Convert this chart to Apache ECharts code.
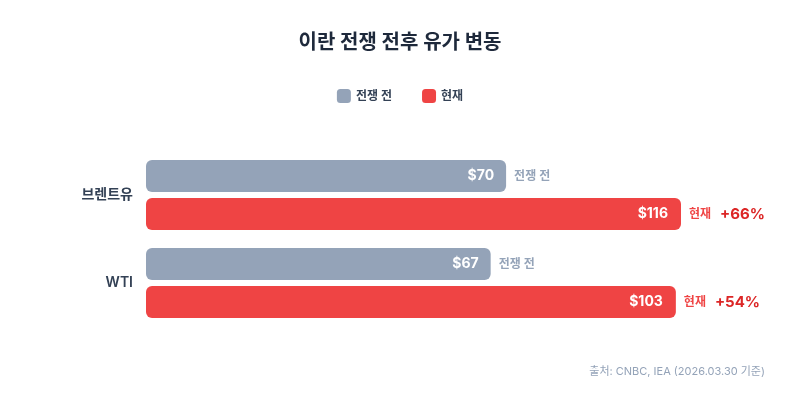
<!DOCTYPE html>
<html>
<head>
<meta charset="utf-8">
<script src="https://cdn.jsdelivr.net/npm/echarts@6/dist/echarts.min.js"></script>
<style>
html,body{margin:0;padding:0;background:#ffffff;}
#chart{width:800px;height:400px;}
</style>
</head>
<body>
<div id="chart"></div>
<script>
const categories = ['브렌트유', 'WTI'];
const seriesNames = ['전쟁 전', '현재'];
const preWar = [70, 67];
const current = [116, 103];
const titleText = '이란 전쟁 전후 유가 변동';
const sourceText = '출처: CNBC, IEA (2026.03.30 기준)';

const FONT = 'Inter, "Noto Sans CJK KR", "Noto Sans", sans-serif';
const chart = echarts.init(document.getElementById('chart'));

function pct(i) {
  return Math.round((current[i] - preWar[i]) / preWar[i] * 100);
}

const option = {
  backgroundColor: '#ffffff',
  textStyle: { fontFamily: FONT },
  title: {
    text: titleText,
    left: 'center',
    top: 28,
    textStyle: { fontSize: 20, fontWeight: 'bold', color: '#1e293b', fontFamily: FONT }
  },
  legend: {
    data: seriesNames,
    top: 84,
    left: 'center',
    icon: 'roundRect',
    itemWidth: 14,
    itemHeight: 14,
    itemGap: 30,
    textStyle: { fontSize: 12, fontWeight: 600, color: '#334155', fontFamily: FONT }
  },
  grid: { left: 146, right: 119, top: 151, bottom: 73, containLabel: false },
  xAxis: { type: 'value', min: 0, max: 104, show: false },
  yAxis: [
    {
      type: 'category', data: categories, inverse: true,
      axisLine: { show: false }, axisTick: { show: false }, splitLine: { show: false },
      axisLabel: { fontSize: 14, fontWeight: 600, color: '#334155', margin: 13, fontFamily: FONT }
    },
    { type: 'category', data: categories, inverse: true, show: false }
  ],
  series: [
    {
      name: seriesNames[0], type: 'bar', yAxisIndex: 0, data: preWar,
      barWidth: 32, barGap: '18.75%',
      itemStyle: { color: '#94a3b8', borderRadius: 6 },
      label: { show: true, position: 'insideRight', distance: 12, formatter: p => '$' + p.value,
        color: '#ffffff', fontSize: 14, fontWeight: 'bold', fontFamily: FONT }
    },
    {
      name: seriesNames[1], type: 'bar', yAxisIndex: 0, data: current,
      barWidth: 32, barGap: '18.75%',
      itemStyle: { color: '#ef4444', borderRadius: 6 },
      label: { show: true, position: 'insideRight', distance: 13, formatter: p => '$' + p.value,
        color: '#ffffff', fontSize: 14, fontWeight: 'bold', fontFamily: FONT }
    },
    {
      name: 'preLabel', type: 'bar', yAxisIndex: 1, data: preWar, silent: true,
      barWidth: 32, barGap: '18.75%',
      itemStyle: { color: 'rgba(0,0,0,0)' },
      label: { show: true, position: 'right', distance: 8, formatter: () => seriesNames[0],
        color: '#94a3b8', fontSize: 12, fontWeight: 600, fontFamily: FONT }
    },
    {
      name: 'curLabel', type: 'bar', yAxisIndex: 1, data: current, silent: true,
      barWidth: 32, barGap: '18.75%',
      itemStyle: { color: 'rgba(0,0,0,0)' },
      label: { show: true, position: 'right', distance: 8,
        formatter: p => '{a|' + seriesNames[1] + '}{s|}{b|+' + pct(p.dataIndex) + '%}',
        rich: {
          a: { color: '#ef4444', fontSize: 12, fontWeight: 600, fontFamily: FONT },
          s: { width: 9 },
          b: { color: '#dc2626', fontSize: 15, fontWeight: 'bold', fontFamily: FONT }
        }
      }
    }
  ],
  graphic: [
    {
      type: 'text', right: 35, top: 366,
      style: { text: sourceText, fill: '#94a3b8', fontSize: 11, fontFamily: FONT }
    }
  ]
};
chart.setOption(option);
</script>
</body>
</html>
